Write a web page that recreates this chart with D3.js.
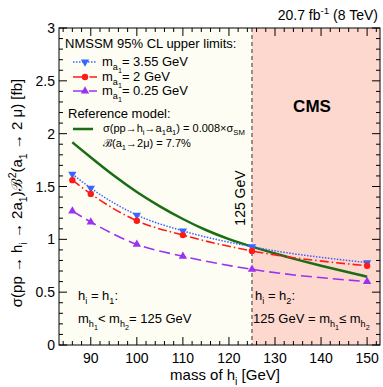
<!DOCTYPE html>
<html><head><meta charset="utf-8">
<script src="https://cdn.jsdelivr.net/npm/d3@7"></script>
<style>body{margin:0;background:#fff}text{font-family:"Liberation Sans",Arial,Helvetica,sans-serif}</style>
</head><body><svg id="c" width="383" height="387"></svg>
<script>
const masses = [86, 90, 100, 110, 125, 150];
const lim355 = [1.618, 1.485, 1.23, 1.08, 0.93, 0.78];
const lim2 = [1.56, 1.43, 1.176, 1.04, 0.89, 0.75];
const lim025 = [1.268, 1.164, 0.953, 0.84, 0.716, 0.60];
const refMass = [86, 90, 95, 100, 105, 110, 115, 120, 125, 130, 135, 140, 145, 150];
const refXsec = [1.918, 1.775, 1.60, 1.445, 1.31, 1.19, 1.085, 1.0, 0.93, 0.865, 0.805, 0.75, 0.697, 0.646];
const xTicks = [90, 100, 110, 120, 130, 140, 150];
const yTicks = [0, 0.5, 1, 1.5, 2, 2.5, 3];

const svg = d3.select("#c");
const L = 59, R = 380, T = 28, B = 345;
const x = d3.scaleLinear().domain([83.1, 152.8]).range([L, R]);
const y = d3.scaleLinear().domain([0, 3]).range([B, T]);

// backgrounds
svg.append("rect").attr("x", L).attr("y", T).attr("width", x(125) - L).attr("height", B - T).attr("fill", "#fdfdf4");
svg.append("rect").attr("x", x(125)).attr("y", T).attr("width", R - x(125)).attr("height", B - T).attr("fill", "#fdd8cf");

// dashed 125 line
svg.append("line").attr("x1", x(125)).attr("x2", x(125)).attr("y1", T).attr("y2", B)
  .attr("stroke", "#333").attr("stroke-width", 1).attr("stroke-dasharray", "4,3");

// ticks (inward, all sides)
const g = svg.append("g");
const xMinor = d3.range(84, 153, 2);
const yMinor = d3.range(0, 3.001, 0.1);
xMinor.forEach(v => {
  const len = xTicks.includes(v) ? 8 : 4;
  g.append("line").attr("x1", x(v)).attr("x2", x(v)).attr("y1", B).attr("y2", B - len).attr("stroke", "#000");
  g.append("line").attr("x1", x(v)).attr("x2", x(v)).attr("y1", T).attr("y2", T + len).attr("stroke", "#000");
});
yMinor.forEach(v => {
  const major = Math.abs(v * 2 - Math.round(v * 2)) < 1e-6;
  const len = major ? 8 : 4;
  g.append("line").attr("y1", y(v)).attr("y2", y(v)).attr("x1", L).attr("x2", L + len).attr("stroke", "#000");
  g.append("line").attr("y1", y(v)).attr("y2", y(v)).attr("x1", R).attr("x2", R - len).attr("stroke", "#000");
});
svg.append("rect").attr("x", L).attr("y", T).attr("width", R - L).attr("height", B - T)
  .attr("fill", "none").attr("stroke", "#000").attr("stroke-width", 1);

xTicks.forEach(v => svg.append("text").attr("x", x(v)).attr("y", 363).attr("text-anchor", "middle")
  .attr("font-size", 14).text(v));
yTicks.forEach(v => svg.append("text").attr("x", L - 4).attr("y", y(v) + 5).attr("text-anchor", "end")
  .attr("font-size", 14).text(v));

// rich text helper with sub/sup/subsub levels
function rich(sel, parts, fs) {
  const off = {n: 0, sub: 0.3, sup: -0.4, subsub: 0.55};
  const sz = {n: 1, sub: 0.7, sup: 0.7, subsub: 0.55};
  let cur = 0;
  parts.forEach(p => {
    const [t, k] = Array.isArray(p) ? p : [p, "n"];
    const target = off[k] * fs;
    const ts = sel.append("tspan").attr("font-size", sz[k] * fs).text(t);
    if (target !== cur) ts.attr("dy", target - cur);
    cur = target;
  });
  return sel;
}

// axis titles
rich(svg.append("text").attr("x", 225).attr("y", 380).attr("text-anchor", "middle").attr("font-size", 15),
  ["mass of h", ["i", "sub"], " [GeV]"], 15);
rich(svg.append("text").attr("transform", "translate(22,193) rotate(-90)").attr("text-anchor", "middle").attr("font-size", 15),
  ["σ(pp → h", ["i", "sub"], " → 2a", ["1", "sub"], ")ℬ", ["2", "sup"], "(a", ["1", "sub"], " → 2 μ) [fb]"], 15);

// lumi
rich(svg.append("text").attr("x", 378).attr("y", 20).attr("text-anchor", "end").attr("font-size", 14),
  ["20.7 fb", ["-1", "sup"], " (8 TeV)"], 14);

// curves
const line = d3.line().x(d => x(d[0])).y(d => y(d[1])).curve(d3.curveMonotoneX);
const series = [
  {v: lim355, c: "#3a64ff", dash: "1.5,1.5", w: 1.5, m: "down"},
  {v: lim2, c: "#ff1a1a", dash: "9,3,1.5,3", w: 1.6, m: "circle"},
  {v: lim025, c: "#9a32f0", dash: "11,5", w: 1.6, m: "up"}
];
svg.append("path").datum(refMass.map((m, i) => [m, refXsec[i]])).attr("d", d3.line().x(d => x(d[0])).y(d => y(d[1])).curve(d3.curveBasis))
  .attr("fill", "none").attr("stroke", "#1a6d14").attr("stroke-width", 2.5);

const sym = {down: d3.symbol().type(d3.symbolTriangle).size(30), circle: d3.symbol().type(d3.symbolCircle).size(32), up: d3.symbol().type(d3.symbolTriangle).size(30)};
function marker(sel, cx, cy, s) {
  sel.append("path").attr("d", sym[s.m]()).attr("fill", s.c)
    .attr("transform", `translate(${cx},${cy})` + (s.m === "down" ? " rotate(180)" : ""));
}
series.forEach(s => {
  svg.append("path").datum(masses.map((m, i) => [m, s.v[i]])).attr("d", line)
    .attr("fill", "none").attr("stroke", s.c).attr("stroke-width", s.w).attr("stroke-dasharray", s.dash);
  masses.forEach((m, i) => marker(svg, x(m), y(s.v[i]), s));
});

// legend
svg.append("text").attr("x", 65).attr("y", 48).attr("font-size", 13).text("NMSSM 95% CL upper limits:");
const labels = ["3.55 GeV", "2 GeV", "0.25 GeV"];
const ly = [62, 77, 91];
series.forEach((s, i) => {
  svg.append("line").attr("x1", 73).attr("x2", 97).attr("y1", ly[i]).attr("y2", ly[i])
    .attr("stroke", s.c).attr("stroke-width", s.w).attr("stroke-dasharray", s.dash);
  marker(svg, 85, ly[i], s);
  rich(svg.append("text").attr("x", 102).attr("y", ly[i] + 4).attr("font-size", 13),
    ["m", ["a", "sub"], ["1", "subsub"], ["= " + labels[i], "n"]], 13);
});
svg.append("text").attr("x", 68).attr("y", 118).attr("font-size", 13).text("Reference model:");
svg.append("line").attr("x1", 73).attr("x2", 93).attr("y1", 129).attr("y2", 129).attr("stroke", "#1a6d14").attr("stroke-width", 2.5);
rich(svg.append("text").attr("x", 103).attr("y", 132).attr("font-size", 11),
  ["σ(pp→h", ["i", "sub"], "→a", ["1", "sub"], "a", ["1", "sub"], ") = 0.008×σ", ["SM", "sub"]], 11);
rich(svg.append("text").attr("x", 103).attr("y", 147).attr("font-size", 11),
  ["ℬ(a", ["1", "sub"], "→2μ) = 7.7%"], 11);

// CMS
svg.append("text").attr("x", 312).attr("y", 112).attr("text-anchor", "middle").attr("font-size", 17).attr("font-weight", "bold").text("CMS");
// 125 GeV
svg.append("text").attr("transform", `translate(${x(125) - 7},198) rotate(-90)`).attr("text-anchor", "middle").attr("font-size", 14).text("125 GeV");

// region labels
rich(svg.append("text").attr("x", 78).attr("y", 300).attr("font-size", 13), ["h", ["i", "sub"], " = h", ["1", "sub"], ":"], 13);
rich(svg.append("text").attr("x", 78).attr("y", 323).attr("font-size", 13), ["m", ["h", "sub"], ["1", "subsub"], "< m", ["h", "sub"], ["2", "subsub"], "= 125 GeV"], 13);
rich(svg.append("text").attr("x", 255).attr("y", 300).attr("font-size", 13), ["h", ["i", "sub"], " = h", ["2", "sub"], ":"], 13);
rich(svg.append("text").attr("x", 253).attr("y", 323).attr("font-size", 13), ["125 GeV = m", ["h", "sub"], ["1", "subsub"], "≤ m", ["h", "sub"], ["2", "subsub"]], 13);
</script></body></html>
